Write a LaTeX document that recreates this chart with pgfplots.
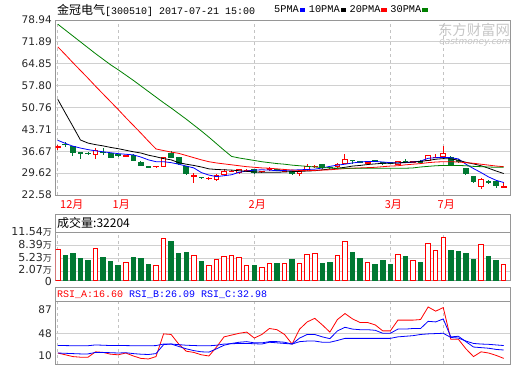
\documentclass[border=0pt]{standalone}
\usepackage{fontspec}
\usepackage{pgfplots}
\usepackage{pgfplotstable}
\pgfplotsset{compat=1.18}
\usepgfplotslibrary{statistics}
\setmainfont{DejaVu Sans}
\newfontfamily\cjk{Noto Sans CJK SC}
\newfontfamily\monof{Liberation Mono}
\newfontfamily\tkf{DejaVu Sans}
\definecolor{vgreen}{RGB}{0,120,50}
\definecolor{magreen}{RGB}{0,128,0}
\definecolor{bord}{RGB}{150,150,150}
\definecolor{gridc}{RGB}{208,208,208}
\definecolor{dashc}{RGB}{195,195,195}
\definecolor{lab}{RGB}{40,40,40}

\pgfplotstableread{
i m5 m10 m20 m30
0 40.2 53.4 70.3 77.6
1 39.2 49.0 67.8 75.7
2 38.3 44.7 65.2 73.8
3 37.7 40.3 62.7 71.9
4 37.2 39.3 60.2 70.0
5 36.8 38.8 57.6 68.1
6 36.5 38.4 55.1 66.3
7 36.2 37.9 52.6 64.5
8 35.9 37.5 50.1 62.9
9 35.7 37.0 47.5 61.2
10 35.5 36.5 45.0 59.5
11 34.8 36.1 42.5 57.7
12 33.9 35.4 39.9 55.9
13 33.3 34.9 37.4 54.1
14 33.3 34.3 36.9 52.3
15 33.0 33.9 36.4 50.6
16 32.5 33.0 36.0 48.8
17 31.9 32.5 35.3 47.0
18 31.3 32.1 34.6 45.1
19 29.8 31.6 33.9 43.2
20 29.0 31.0 33.3 41.2
21 28.5 30.8 32.9 39.1
22 28.8 30.7 32.6 37.0
23 29.1 30.6 32.3 35.0
24 29.9 30.4 32.0 34.5
25 30.3 30.2 31.7 34.1
26 30.6 30.0 31.5 33.7
27 30.7 29.9 31.3 33.3
28 30.6 29.9 31.2 33.0
29 30.4 29.9 31.0 32.7
30 30.5 30.0 30.8 32.5
31 30.6 30.1 30.6 32.2
32 30.7 30.2 30.5 32.0
33 30.8 30.3 30.4 31.8
34 30.9 30.4 30.5 31.6
35 31.3 30.7 30.6 31.4
36 31.8 30.9 30.7 31.3
37 32.2 31.2 30.9 31.2
38 32.5 31.5 31.1 31.2
39 32.9 31.9 31.2 31.2
40 33.2 32.1 31.3 31.2
41 33.4 32.4 31.4 31.2
42 33.4 32.6 31.5 31.2
43 33.2 32.8 31.7 31.2
44 33.0 32.8 31.9 31.2
45 32.9 32.9 32.0 31.2
46 33.0 33.1 32.3 31.2
47 33.2 33.2 32.5 31.3
48 33.5 33.4 32.7 31.6
49 34.4 33.7 33.0 31.8
50 34.6 34.1 33.2 32.0
51 34.7 34.3 33.3 32.1
52 34.6 34.2 33.3 32.1
53 34.2 33.8 33.2 32.1
54 32.5 33.1 33.0 32.0
55 31.1 32.6 32.8 31.8
56 29.8 32.0 32.5 31.7
57 28.4 31.2 32.2 31.6
58 27.3 30.3 31.9 31.5
59 26.6 29.5 31.7 31.5
}\ma

\pgfplotstableread{
i a b c
0 15 15 27.4
1 12 14.5 27.4
2 9 14 27.2
3 8 13.5 27.2
4 8 13.5 27.2
5 17 16 28.5
6 16 16 28
7 13 15.5 27.5
8 12 15 27.4
9 15 15.5 27.4
10 10 14 27.2
11 6 13 27
12 5 12.5 27
13 9 14 27.4
14 47 29 30
15 46 30 30
16 30 26 29
17 18 22 28
18 16 19 27.5
19 12 17 27
20 10 16.5 27
21 25 22 28
22 42 28 30
23 45 31 30.5
24 48 33 31
25 50 34 31
26 40 32 30.5
27 46 32 30
28 56 34 33
29 54 34 32
30 46 33 31
31 30 30 30
32 55 40 34
33 67 46 35
34 73 46 35
35 62 42 33
36 50 39 33
37 71 52 36
38 81 58 39.5
39 72 55 39.5
40 66 54 39.5
41 66 54 39.5
42 62 53 39.5
43 52 48 39.5
44 52 48 39.5
45 70 55 42
46 70 55 43
47 70 56 44
48 71 56 46
49 92 68 47
50 85 67 47.5
51 91 72 48
52 38 42 41
53 38 43 40
54 22 34 35
55 9 25 31
56 17 24 30
57 15 23 29.5
58 11 21 28.5
59 6 20 27.5
}\rsi

\newcommand\cR[5]{\addplot[forget plot, color=red, line width=1pt, boxplot/every box/.style={fill=white}, boxplot prepared={draw position=#1, lower whisker=#2, lower quartile=#3, median=#3, upper quartile=#4, upper whisker=#5}] coordinates {};}
\newcommand\cG[5]{\addplot[forget plot, color=vgreen, line width=1pt, boxplot/every box/.style={fill=vgreen}, boxplot prepared={draw position=#1, lower whisker=#2, lower quartile=#3, median=#3, upper quartile=#4, upper whisker=#5}] coordinates {};}
\newcommand\wan{{\cjk\fontsize{9}{9}\selectfont 万}}

\pgfplotsset{
  panel/.style={
    scale only axis, width=454.5pt, xmin=-0.3, xmax=59.83,
    axis line style={draw=bord, line width=1pt},
    major tick length=0pt, tick style={draw=none},
    xtick={0,8,26,44,51},
    xmajorgrids,
    x grid style={dashc, line width=0.8pt, dash pattern=on 3pt off 3pt},
    y grid style={gridc, line width=1pt},
    yticklabel style={font=\tkf\fontsize{10.5}{12}\selectfont, text=lab, inner sep=0pt, xshift=-3.5pt},
  }
}

\begin{document}
\begin{tikzpicture}
\useasboundingbox (0pt,0pt) rectangle (520pt,365pt);

% ---------- price panel ----------
\begin{axis}[panel, at={(55.5pt,170pt)}, anchor=south west, height=175pt,
  ymin=22.58, ymax=78.94,
  ytick={22.58,29.62,36.67,43.71,50.76,57.80,64.85,71.89,78.94},
  yticklabels={22.58,29.62,36.67,43.71,50.76,57.80,64.85,71.89,78.94},
  ymajorgrids,
  xticklabels={\hspace*{22pt}12月,1月,2月,3月,7月},
  xticklabel style={font=\cjk\fontsize{11}{11}\selectfont, text=red, xshift=3pt, inner sep=0pt, yshift=-5pt},
  boxplot/draw direction=y,
  boxplot/box extend=0.62, boxplot/whisker extend=0,
  legend columns=4, legend plot pos=right,
  legend image code/.code={\fill (0pt,-1.4pt) rectangle (4.5pt,1.4pt);},
  legend style={draw=none, fill=none, inner sep=0pt, at={(0.479,1)}, anchor=west, yshift=10pt,
    font=\monof\fontsize{10.3}{12}\selectfont, nodes={inner sep=0.8pt},
    /tikz/every even column/.append style={column sep=3pt}},
]
\cR{0}{37.2}{37.9}{38.1}{38.8}
\cG{1}{38.0}{38.8}{39.0}{39.6}
\cG{2}{35.2}{36.3}{38.2}{38.4}
\cG{3}{34.2}{36.0}{36.2}{36.3}
\cG{4}{35.4}{35.8}{36.0}{36.3}
\cR{5}{34.3}{35.5}{36.8}{37.6}
\cG{6}{35.5}{36.2}{36.4}{37.7}
\cG{7}{34.6}{34.8}{35.8}{36.0}
\cG{8}{35.0}{35.3}{35.5}{35.7}
\cR{9}{35.0}{35.1}{35.4}{35.6}
\cG{10}{33.4}{33.7}{35.4}{35.7}
\cG{11}{31.9}{32.2}{33.1}{33.4}
\cG{12}{31.3}{31.5}{31.7}{31.8}
\cR{13}{31.5}{31.6}{31.8}{32.0}
\cR{14}{31.7}{31.8}{34.8}{34.9}
\cG{15}{34.5}{34.7}{36.0}{36.6}
\cG{16}{32.4}{32.8}{34.5}{34.9}
\cG{17}{29.3}{29.4}{31.8}{31.9}
\cR{18}{26.6}{28.5}{28.7}{29.8}
\cG{19}{27.8}{28.1}{28.3}{28.3}
\cR{20}{27.7}{27.8}{27.9}{28.4}
\cR{21}{27.3}{27.5}{29.0}{29.3}
\cR{22}{29.0}{29.1}{30.1}{30.9}
\cR{23}{29.7}{30.0}{30.1}{30.6}
\cR{24}{29.7}{29.8}{30.7}{31.0}
\cR{25}{30.2}{30.4}{30.5}{30.8}
\cG{26}{29.7}{29.8}{30.7}{30.9}
\cR{27}{29.9}{30.0}{30.2}{30.3}
\cR{28}{30.3}{30.7}{31.0}{31.6}
\cG{29}{30.3}{30.6}{30.7}{31.0}
\cR{30}{30.0}{30.2}{30.5}{30.7}
\cG{31}{29.3}{29.4}{30.1}{30.3}
\cR{32}{28.8}{29.6}{30.1}{30.3}
\cR{33}{30.6}{30.7}{31.6}{32.6}
\cR{34}{31.3}{31.6}{31.8}{32.3}
\cG{35}{31.3}{31.4}{32.3}{32.4}
\cG{36}{31.0}{31.4}{31.5}{31.6}
\cR{37}{31.5}{31.6}{32.5}{32.8}
\cR{38}{32.6}{32.8}{33.9}{35.9}
\cG{39}{32.5}{33.6}{33.7}{33.7}
\cG{40}{32.8}{33.2}{33.3}{33.6}
\cR{41}{32.6}{32.8}{33.2}{33.5}
\cG{42}{33.2}{33.6}{33.7}{33.8}
\cG{43}{32.4}{32.8}{32.9}{33.2}
\cG{44}{32.7}{32.9}{33.0}{33.2}
\cR{45}{32.4}{32.5}{33.4}{33.5}
\cG{46}{33.2}{33.4}{33.5}{34.2}
\cR{47}{32.9}{33.1}{33.3}{33.6}
\cG{48}{32.8}{33.2}{33.3}{33.7}
\cR{49}{33.6}{33.7}{35.2}{35.3}
\cR{50}{34.6}{34.7}{34.8}{35.9}
\cR{51}{34.9}{35.0}{35.9}{38.5}
\cG{52}{32.2}{32.3}{34.8}{35.2}
\cG{53}{33.0}{33.4}{33.6}{34.1}
\cG{54}{29.1}{29.6}{31.0}{31.1}
\cG{55}{26.6}{26.9}{28.5}{28.8}
\cR{56}{24.4}{25.3}{27.7}{27.9}
\cG{57}{26.0}{26.7}{26.8}{27.4}
\cG{58}{24.9}{25.5}{26.9}{27.4}
\cR{59}{25.0}{25.0}{25.2}{26.9}
\addplot[blue, line width=0.8pt] table[x=i, y=m5] {\ma};
\addlegendentry{5PMA}
\addplot[black, line width=0.8pt] table[x=i, y=m10] {\ma};
\addlegendentry{10PMA}
\addplot[red, line width=0.8pt] table[x=i, y=m20] {\ma};
\addlegendentry{20PMA}
\addplot[magreen, line width=0.8pt] table[x=i, y=m30] {\ma};
\addlegendentry{30PMA}
\end{axis}

% ---------- volume panel ----------
\begin{axis}[panel, at={(55.5pt,85pt)}, anchor=south west, height=48pt,
  ymin=0, ymax=11.54,
  ytick={0,2.07,5.23,8.39,11.54},
  yticklabels={\raisebox{-1pt}[\height][\depth]{0},{\raisebox{2pt}[\height][\depth]{2.07\wan}},{5.23\wan},{8.39\wan},{11.54\wan}},
  yticklabel style={font=\tkf\fontsize{11}{12}\selectfont},
  ymajorgrids,
  xticklabels={,,,,},
]
\addplot[ybar, bar width=4.5pt, bar shift=0pt, draw=red, fill=white, line width=1pt] coordinates {
(0,7.26) (5,7.67) (9,4.28) (13,3.55) (14,10.09) (18,5.89) (20,3.55) (21,5.00) (22,5.73) (23,5.89) (24,5.49) (25,3.55) (27,3.07) (28,4.04) (30,4.04) (32,4.04) (33,6.21) (34,6.46) (37,5.97) (38,9.36) (41,4.28) (45,6.21) (47,4.60) (49,8.88) (50,7.18) (51,10.33) (56,8.63) (59,3.79)};
\addplot[ybar, bar width=4.5pt, bar shift=0pt, draw=vgreen, fill=vgreen, line width=1pt] coordinates {
(1,5.81) (2,6.29) (3,5.08) (4,4.60) (6,5.33) (7,4.44) (8,3.39) (10,5.49) (11,5.08) (12,3.63) (15,9.20) (16,6.29) (17,6.54) (19,4.36) (26,3.39) (29,3.87) (31,4.84) (35,3.87) (36,4.12) (39,6.54) (40,5.08) (42,3.63) (43,4.60) (44,3.63) (46,5.57) (48,4.12) (52,7.02) (53,6.78) (54,6.29) (55,4.84) (57,5.57) (58,4.60)};
\end{axis}

% ---------- RSI panel ----------
\begin{axis}[panel, at={(55.5pt,1pt)}, anchor=south west, height=63pt,
  ymin=-3.4, ymax=102,
  ytick={10,87}, yticklabels={10,87},
  extra y ticks={48}, extra y tick labels={48}, extra y tick style={grid=major},
  xticklabels={,,,,},
]
\addplot[red, line width=0.8pt] table[x=i, y=a] {\rsi};
\addplot[blue, line width=0.8pt] table[x=i, y=b] {\rsi};
\addplot[blue, line width=0.8pt] table[x=i, y=c] {\rsi};
\end{axis}

% ---------- frames and titles ----------
\draw[bord, line width=1pt] (55.5pt,133pt) rectangle (510pt,151pt);
\draw[bord, line width=1pt] (55.5pt,64pt) rectangle (510pt,77.3pt);
\node[anchor=west, inner sep=0pt] at (57pt,355pt) {{\cjk\fontsize{12}{12}\selectfont 金冠电气}{\monof\fontsize{10}{10}\selectfont [300510] 2017-07-21 15:00}};
\node[anchor=west, inner sep=0pt] at (57pt,142pt) {\cjk\fontsize{12}{12}\selectfont 成交量:32204};
\node[anchor=west, inner sep=0pt] at (57pt,70.6pt) {\monof\fontsize{10}{10}\selectfont\textcolor{red}{RSI\_A:16.60} \textcolor{blue}{RSI\_B:26.09} \textcolor{blue}{RSI\_C:32.98}};
\node[text=gray!45, inner sep=0pt] at (474pt,335pt) {\cjk\fontsize{14.4}{14.4}\selectfont 东方财富网};
\node[text=gray!45, inner sep=0pt] at (475pt,323pt) {\tkf\itshape\fontsize{9}{9}\selectfont eastmoney.com};
\end{tikzpicture}
\end{document}
